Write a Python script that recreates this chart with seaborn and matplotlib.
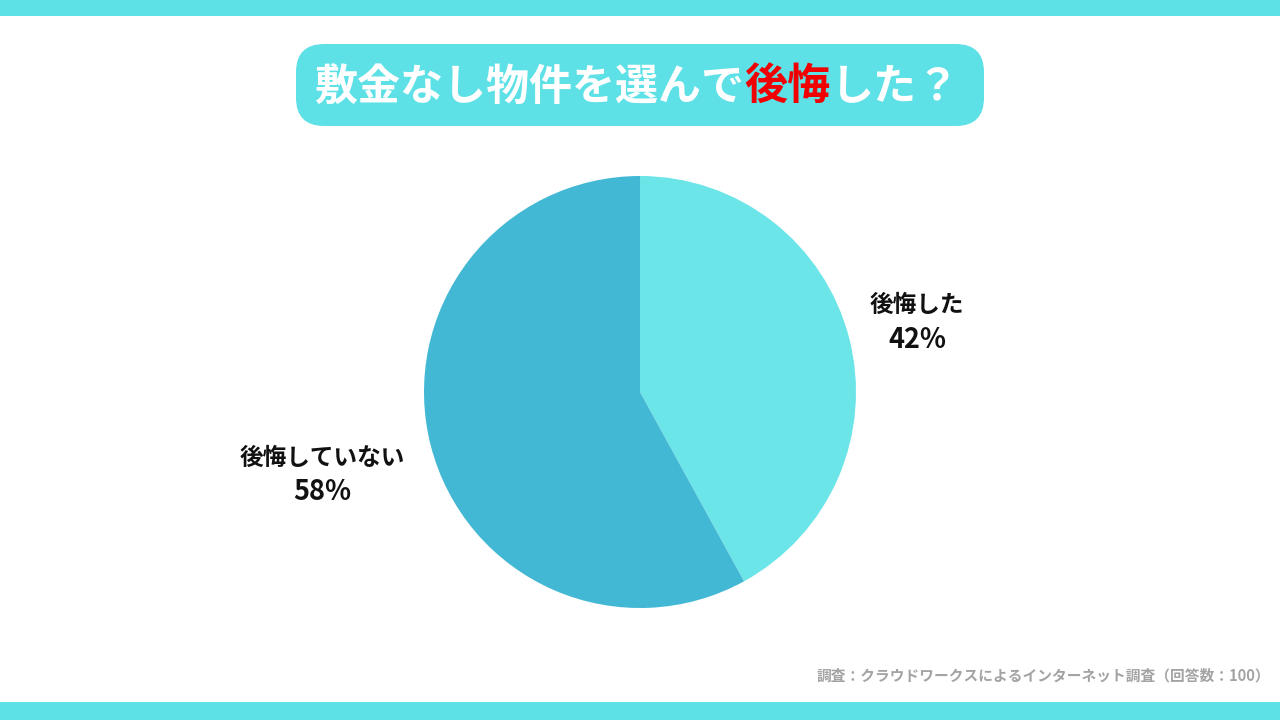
import matplotlib
matplotlib.use("Agg")
import matplotlib.pyplot as plt
from matplotlib.patches import FancyBboxPatch, Rectangle
import seaborn as sns

# ---- data ----
categories = ["後悔した", "後悔していない"]
values = [42, 58]
title_parts = ["敷金なし物件を選んで", "後悔", "した？"]
footer = "調査：クラウドワークスによるインターネット調査（回答数：100）"

sns.set_theme(style="white")
plt.rcParams['font.family'] = ['Noto Sans CJK JP', 'DejaVu Sans']

ACCENT = "#5EE1E6"
pie_colors = sns.color_palette(["#6BE5E8", "#43B8D4"])

fig = plt.figure(figsize=(12.8, 7.2), dpi=100)
fig.patch.set_facecolor("white")

# top / bottom bars
fig.add_artist(Rectangle((0, 1 - 16 / 720), 1, 16 / 720, transform=fig.transFigure,
                         facecolor=ACCENT, edgecolor="none"))
fig.add_artist(Rectangle((0, 0), 1, 18 / 720, transform=fig.transFigure,
                         facecolor=ACCENT, edgecolor="none"))

# title box
bx0, by0, bw, bh = 296 / 1280, 1 - 126 / 720, 688 / 1280, 82 / 720
fig.add_artist(FancyBboxPatch((bx0, by0), bw, bh, transform=fig.transFigure,
                              boxstyle="round,pad=0,rounding_size=0.022",
                              mutation_aspect=1280 / 720,
                              facecolor=ACCENT, edgecolor="none"))

# title text with coloured part
colors_t = ["white", "#F00000", "white"]
ty = 1 - 87 / 720
texts = []
for part, c in zip(title_parts, colors_t):
    texts.append(fig.text(0, ty, part, color=c, fontsize=31, fontweight="bold",
                          va="center", ha="left"))
fig.canvas.draw()
r = fig.canvas.get_renderer()
widths = [t.get_window_extent(r).width for t in texts]
total = sum(widths)
x = 637 - total / 2
for t, w in zip(texts, widths):
    t.set_x(x / 1280)
    x += w

# pie
R = 216
cx, cy = 640, 720 - 392
ax = fig.add_axes([(cx - R) / 1280, (cy - R) / 720, 2 * R / 1280, 2 * R / 720])
ax.pie(values, colors=pie_colors, startangle=90, counterclock=False,
       wedgeprops=dict(linewidth=0))
ax.set_xlim(-1, 1)
ax.set_ylim(-1, 1)
ax.set_aspect("equal")
ax.axis("off")

# labels
label_pos = [(917, 305, 340), (322, 458, 492)]
for cat, v, (lx, ly1, ly2) in zip(categories, values, label_pos):
    fig.text(lx / 1280, 1 - ly1 / 720, cat, ha="center", va="center",
             fontsize=17, fontweight="bold", color="#111111")
    fig.text(lx / 1280, 1 - ly2 / 720, f"{v}%", ha="center", va="center",
             fontsize=19.5, fontweight="bold", color="#111111")

# footer
fig.text(1270 / 1280, 1 - 676 / 720, footer, ha="right", va="center",
         fontsize=10.6, fontweight="bold", color="#A3A3A3")

fig.savefig("out.png", dpi=100, facecolor="white")
